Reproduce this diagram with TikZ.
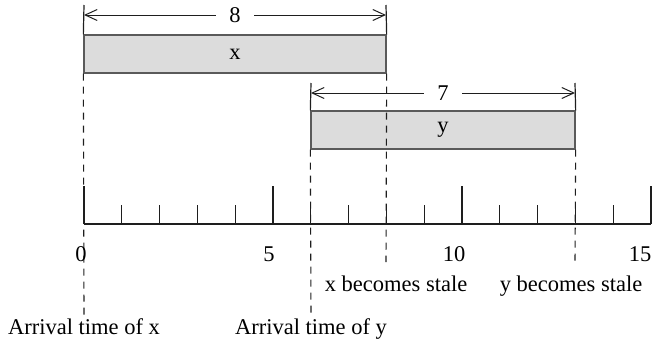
\documentclass[tikz,border=0pt]{standalone}
\usepackage{fontspec}
\setmainfont{Liberation Serif}
\usetikzlibrary{arrows.meta}
\definecolor{barfill}{RGB}{220,220,220}
\definecolor{barline}{RGB}{90,90,90}
\definecolor{ink}{RGB}{30,30,30}
\tikzset{
  bar/.style={draw=barline, fill=barfill, line width=1.3pt, inner sep=0pt, font=\fontsize{22.5}{27}\selectfont},
  dimline/.style={draw=ink, line width=1pt, {Straight Barb[length=12pt,width=11pt]}-{Straight Barb[length=12pt,width=11pt]}},
  dimlabel/.style={fill=white, inner xsep=13pt, inner ysep=0pt, font=\fontsize{22.5}{27}\selectfont},
  extline/.style={draw=ink, line width=1.2pt},
  guide/.style={draw=ink, line width=1.1pt, dash pattern=on 7pt off 6pt},
  axisline/.style={draw=ink, line width=1.2pt},
  tickline/.style={draw=ink, line width=1.05pt},
  lbl/.style={anchor=base, inner sep=0pt, font=\fontsize{22.5}{27}\selectfont}
}
\begin{document}
\begin{tikzpicture}[x=1pt,y=-1pt]
\useasboundingbox (0,0) rectangle (655,348);
% bars
\node[bar, minimum width=302pt, minimum height=38pt] (bx) at (235,54) {x};
\node[bar, minimum width=264pt, minimum height=38pt] (by) at (443,130) {y};
% extension lines
\coordinate (ex1) at (84,5);
\coordinate (ex2) at (386,5);
\coordinate (ey1) at (311,83);
\coordinate (ey2) at (575,83);
\draw[extline] (ex1) -- (bx.north west);
\draw[extline] (ex2) -- (bx.north east);
\draw[extline] (ey1) -- (by.north west);
\draw[extline] (ey2) -- (by.north east);
% dimension arrows
\coordinate (dx1) at (84,15);
\coordinate (dx2) at (386,15);
\coordinate (dy1) at (311,93);
\coordinate (dy2) at (575,93);
\draw[dimline] (dx1) -- (dx2);
\draw[dimline] (dy1) -- (dy2);
\node[dimlabel] (l8) at (235,15) {8};
\node[dimlabel] (l7) at (443,93) {7};
% guide lines
\coordinate (g0) at (84,315);
\coordinate (g6) at (311,315);
\coordinate (g8) at (386,262);
\coordinate (g13) at (575,262);
\draw[guide] (bx.south west) -- (g0);
\draw[guide] (by.south west) -- (g6);
\draw[guide] (bx.south east) -- (g8);
\draw[guide] (by.south east) -- (g13);
% axis
\coordinate (a0) at (84,224);
\coordinate (a15) at (651,224);
\draw[axisline] (a0) -- (a15);
\foreach \i in {0,...,15}{
  \pgfmathsetmacro{\xx}{84+37.8*\i}
  \pgfmathsetmacro{\top}{ifthenelse(mod(\i,5)==0,186,205)}
  \draw[tickline] (\xx,224) -- (\xx,\top);
}
% numbers
\node[lbl] (n0) at (81,261) {0};
\node[lbl] (n5) at (269,261) {5};
\node[lbl] (n10) at (454,261) {10};
\node[lbl] (n15) at (640,261) {15};
% texts
\node[lbl] (xs) at (396,291) {x becomes stale};
\node[lbl] (ys) at (571,291) {y becomes stale};
\node[lbl] (ax) at (84,334) {Arrival time of x};
\node[lbl] (ay) at (311,334) {Arrival time of y};
\end{tikzpicture}
\end{document}
